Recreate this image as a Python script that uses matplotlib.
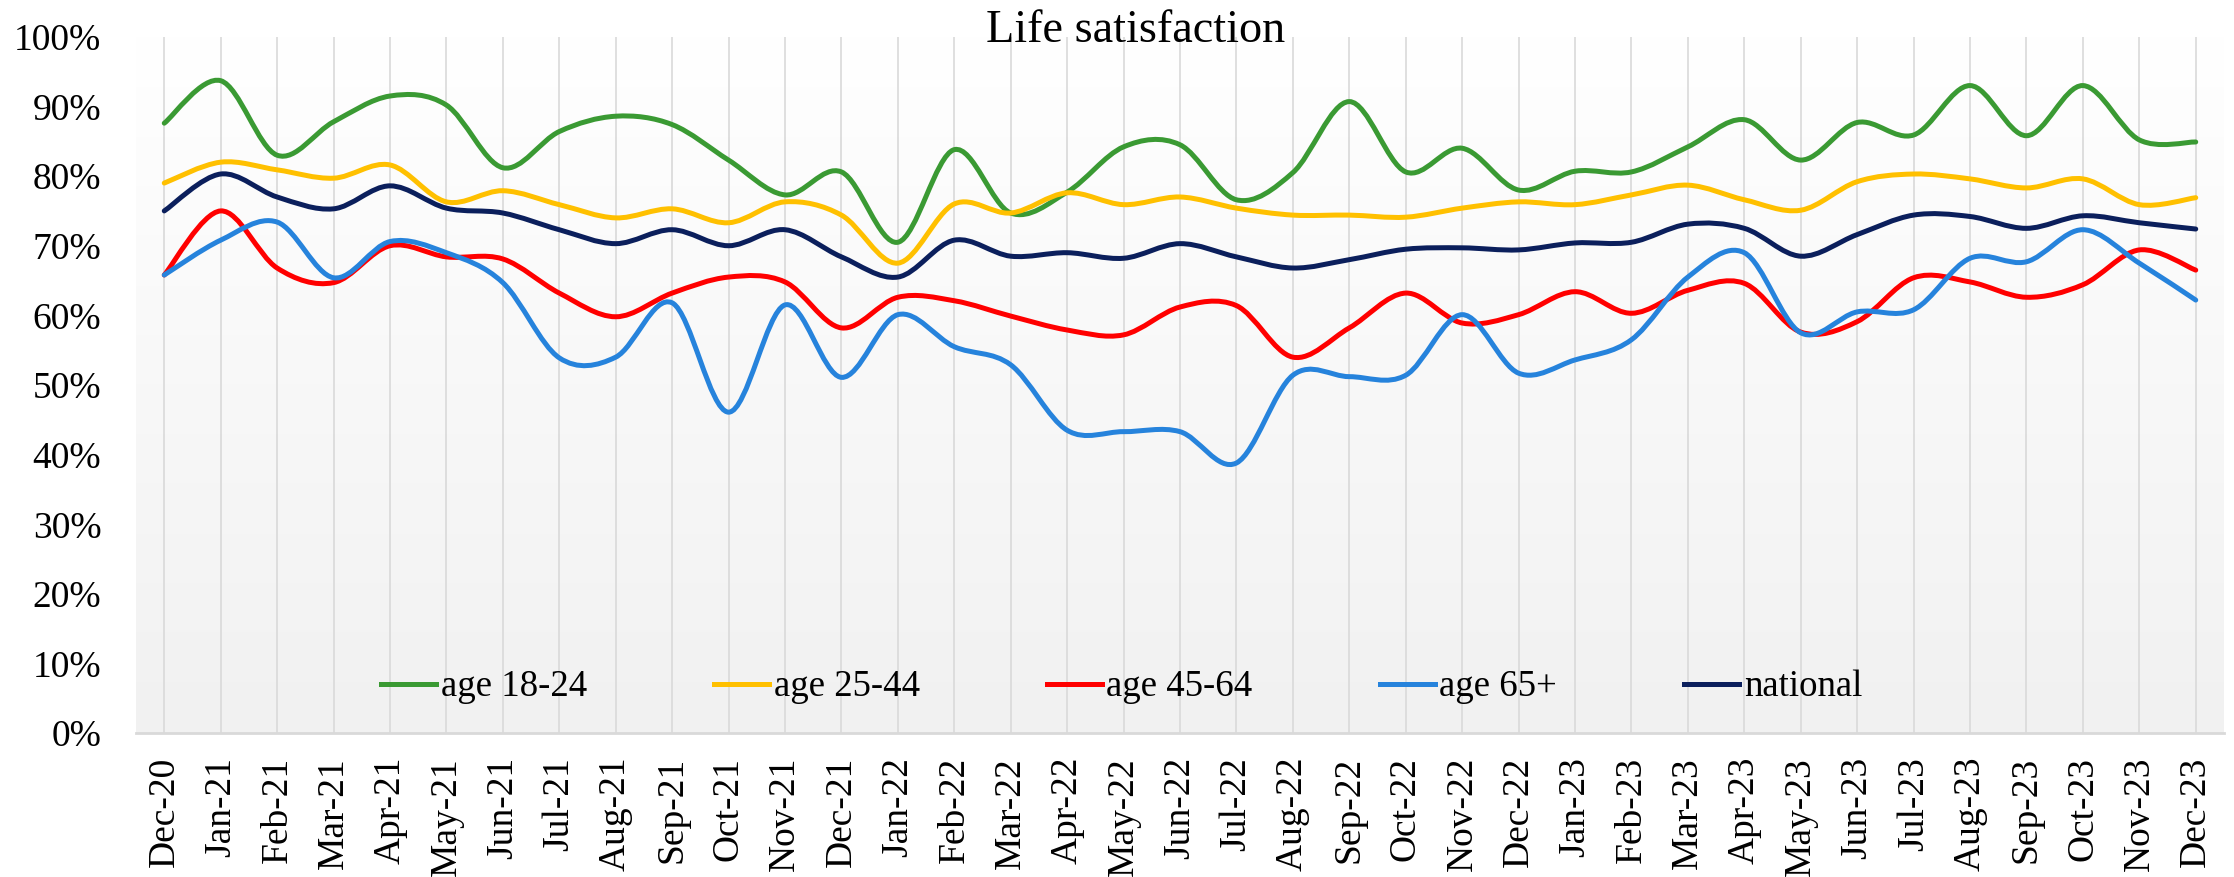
import numpy as np
import matplotlib
matplotlib.use("Agg")
import matplotlib.pyplot as plt
from matplotlib.path import Path
from matplotlib.patches import PathPatch
from matplotlib.lines import Line2D
from matplotlib.ticker import PercentFormatter

# data (in %)
months = ["Dec-20", "Jan-21", "Feb-21", "Mar-21", "Apr-21", "May-21", "Jun-21", "Jul-21",
          "Aug-21", "Sep-21", "Oct-21", "Nov-21", "Dec-21", "Jan-22", "Feb-22", "Mar-22",
          "Apr-22", "May-22", "Jun-22", "Jul-22", "Aug-22", "Sep-22", "Oct-22", "Nov-22",
          "Dec-22", "Jan-23", "Feb-23", "Mar-23", "Apr-23", "May-23", "Jun-23", "Jul-23",
          "Aug-23", "Sep-23", "Oct-23", "Nov-23", "Dec-23"]

age_18_24 = [87.6, 93.7, 83.0, 87.8, 91.5, 90.2, 81.2, 86.4, 88.6, 87.4, 82.3, 77.3, 80.6,
             70.5, 83.8, 74.7, 77.7, 84.2, 84.5, 76.6, 80.5, 90.7, 80.6, 84.0, 78.0, 80.7,
             80.6, 84.2, 88.1, 82.3, 87.7, 85.9, 93.0, 85.8, 93.0, 85.2, 84.9]
age_25_44 = [79.0, 82.0, 80.9, 79.7, 81.6, 76.3, 77.9, 75.9, 74.0, 75.3, 73.3, 76.3, 74.4,
             67.5, 76.0, 74.7, 77.6, 75.9, 77.0, 75.4, 74.4, 74.4, 74.1, 75.4, 76.3, 75.9,
             77.3, 78.7, 76.6, 75.1, 79.2, 80.3, 79.6, 78.3, 79.6, 75.9, 76.9]
age_45_64 = [65.8, 75.0, 66.8, 64.7, 70.0, 68.4, 68.1, 63.2, 59.8, 63.2, 65.5, 64.8, 58.2,
             62.6, 62.1, 59.9, 57.9, 57.2, 61.2, 61.4, 54.0, 58.2, 63.2, 58.9, 60.1, 63.4,
             60.3, 63.6, 64.6, 57.6, 59.1, 65.4, 64.8, 62.6, 64.4, 69.4, 66.5]
age_65_plus = [65.8, 70.8, 73.4, 65.4, 70.6, 69.0, 64.7, 53.9, 54.0, 61.8, 46.1, 61.5, 51.1,
               60.1, 55.5, 52.9, 43.5, 43.3, 43.3, 38.8, 51.4, 51.2, 51.4, 60.1, 51.7, 53.6,
               56.5, 65.5, 69.0, 57.5, 60.5, 60.8, 68.2, 67.7, 72.3, 67.5, 62.2]
national = [75.0, 80.3, 77.0, 75.3, 78.6, 75.4, 74.7, 72.3, 70.3, 72.3, 70.0, 72.3, 68.4,
            65.5, 70.8, 68.5, 69.0, 68.2, 70.3, 68.4, 66.8, 68.0, 69.5, 69.7, 69.4, 70.4,
            70.5, 73.1, 72.5, 68.5, 71.6, 74.4, 74.2, 72.5, 74.3, 73.3, 72.4]

series = [
    ("age 18-24", age_18_24, "#3a9a33"),
    ("age 25-44", age_25_44, "#ffc000"),
    ("age 45-64", age_45_64, "#ff0000"),
    ("age 65+", age_65_plus, "#2683dc"),
    ("national", national, "#0b1f5c"),
]

plt.rcParams['font.family'] = ['Liberation Serif', 'DejaVu Serif']


def smooth_path(xs, ys):
    # bezier curve through the points (like Excel's "smoothed line")
    n = len(xs)
    verts = [(xs[0], ys[0])]
    codes = [Path.MOVETO]
    for i in range(n - 1):
        a = max(i - 1, 0)
        b = min(i + 2, n - 1)
        c1 = (xs[i] + (xs[i + 1] - xs[a]) / 6, ys[i] + (ys[i + 1] - ys[a]) / 6)
        c2 = (xs[i + 1] - (xs[b] - xs[i]) / 6, ys[i + 1] - (ys[b] - ys[i]) / 6)
        verts += [c1, c2, (xs[i + 1], ys[i + 1])]
        codes += [Path.CURVE4] * 3
    return Path(verts, codes)


fig = plt.figure(figsize=(22.34, 8.77), dpi=100)
ax = fig.add_axes([0.0609, 0.164, 0.9346, 0.794])

# gradient background of the plot area
grad = np.linspace(0, 1, 256).reshape(-1, 1)
ax.imshow(grad, extent=[0, 1, 0, 1], transform=ax.transAxes, aspect='auto',
          cmap=matplotlib.colors.LinearSegmentedColormap.from_list("bg", ["#ffffff", "#f1f1f1"]),
          origin='upper', zorder=0)

x = np.arange(len(months))
handles = []
for label, vals, col in series:
    p = smooth_path(x, np.array(vals) / 100)
    ax.add_patch(PathPatch(p, facecolor='none', edgecolor=col, lw=3.6,
                           capstyle='round', joinstyle='round', zorder=3))
    handles.append(Line2D([], [], color=col, lw=3.6, label=label))

ax.set_xlim(-0.5, len(months) - 0.5)
ax.set_ylim(0, 1)
ax.set_xticks(x)
ax.set_xticklabels(months, rotation=90, fontsize=27)
ax.set_yticks(np.arange(0, 1.01, 0.1))
ax.yaxis.set_major_formatter(PercentFormatter(1.0, decimals=0))
ax.tick_params(axis='y', length=0, pad=25, labelsize=27)
ax.tick_params(axis='x', length=0, pad=17)

ax.grid(axis='x', color='#d9d9d9', lw=1.2, zorder=1)
ax.set_axisbelow(True)
for s in ['top', 'right', 'left']:
    ax.spines[s].set_visible(False)
ax.spines['bottom'].set_color('#d9d9d9')
ax.spines['bottom'].set_linewidth(2)

ax.legend(handles=handles, ncol=5, loc='center left', bbox_to_anchor=(0.1104, 0.066),
          frameon=False, fontsize=26.5, handlelength=1.5, handletextpad=0.12,
          columnspacing=3.45, borderaxespad=0)

fig.text(0.5085, 0.952, "Life satisfaction", ha='center', va='baseline', fontsize=33.3)

fig.savefig("out.png", dpi=100)
